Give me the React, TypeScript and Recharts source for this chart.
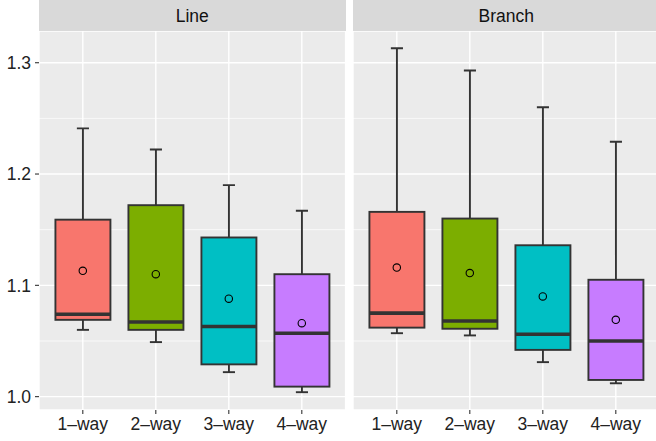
import React from 'react';
import { ComposedChart, Bar, Scatter, XAxis, YAxis, CartesianGrid } from 'recharts';

// categories shared by both panels
const categories = ['1–way', '2–way', '3–way', '4–way'];

// "Line" panel
const lineLo = [1.060, 1.049, 1.022, 1.004];
const lineQ1 = [1.069, 1.060, 1.029, 1.009];
const lineMed = [1.074, 1.067, 1.063, 1.057];
const lineQ3 = [1.159, 1.172, 1.143, 1.110];
const lineHi = [1.241, 1.222, 1.190, 1.167];
const lineMean = [1.113, 1.110, 1.088, 1.066];

// "Branch" panel
const branchLo = [1.057, 1.055, 1.031, 1.012];
const branchQ1 = [1.062, 1.061, 1.042, 1.015];
const branchMed = [1.075, 1.068, 1.056, 1.050];
const branchQ3 = [1.166, 1.160, 1.136, 1.105];
const branchHi = [1.313, 1.293, 1.260, 1.229];
const branchMean = [1.116, 1.111, 1.090, 1.069];

const yTicks = [1.0, 1.1, 1.2, 1.3];
const yMinor = [1.05, 1.15, 1.25];

const COLORS = ['#F8766D', '#7CAE00', '#00BFC4', '#C77CFF'];
const FONT = '"Liberation Sans", Arial, Helvetica, sans-serif';
const DOMAIN: [number, number] = [0.988, 1.3285];

const buildRows = (lo, q1, med, q3, hi, mean) =>
  categories.map((name, i) => ({
    name,
    lo: lo[i],
    q1: q1[i],
    med: med[i],
    q3: q3[i],
    hi: hi[i],
    mean: mean[i],
  }));

const lineData = buildRows(lineLo, lineQ1, lineMed, lineQ3, lineHi, lineMean);
const branchData = buildRows(branchLo, branchQ1, branchMed, branchQ3, branchHi, branchMean);

// draws a whole box + whiskers from the whisker-range bar
const BoxShape = (props: any) => {
  const { x, y, width, height, payload, index } = props;
  if (!payload || height == null) return null;
  const top = Math.min(y, y + height);
  const bot = Math.max(y, y + height);
  const span = payload.hi - payload.lo;
  const py = (v: number) => top + ((payload.hi - v) / span) * (bot - top);
  const cx = x + width / 2;
  const cap = width * 0.11;
  const stroke = '#333333';
  return (
    <g>
      <line x1={cx} x2={cx} y1={top} y2={bot} stroke={stroke} strokeWidth={1.9} />
      <line x1={cx - cap} x2={cx + cap} y1={top} y2={top} stroke={stroke} strokeWidth={1.9} />
      <line x1={cx - cap} x2={cx + cap} y1={bot} y2={bot} stroke={stroke} strokeWidth={1.9} />
      <rect
        x={x}
        y={py(payload.q3)}
        width={width}
        height={py(payload.q1) - py(payload.q3)}
        fill={COLORS[index % COLORS.length]}
        stroke={stroke}
        strokeWidth={1.9}
      />
      <line x1={x} x2={x + width} y1={py(payload.med)} y2={py(payload.med)} stroke={stroke} strokeWidth={3.6} />
    </g>
  );
};

const MeanDot = (props: any) => {
  const { cx, cy } = props;
  if (cx == null || cy == null) return null;
  return <circle cx={cx} cy={cy} r={3.7} fill="none" stroke="#000" strokeWidth={1.1} />;
};

const tickStyle = { fill: '#222222', fontSize: 17.5, fontFamily: FONT };

function Panel({ data, showY, width, right }: any) {
  const plotW = width - (showY ? 39 : 0) - right;
  const pad = (plotW / 4.2) * 0.1;
  return (
    <ComposedChart
      width={width}
      height={441}
      data={data}
      barCategoryGap="12.5%"
      margin={{ top: 31, right, bottom: 0, left: 0 }}
    >
      <CartesianGrid stroke="#FFFFFF" strokeWidth={1.4} fill="#EBEBEB" />
      <CartesianGrid stroke="#FFFFFF" strokeWidth={0.7} vertical={false} horizontalValues={yMinor} />
      <XAxis
        dataKey="name"
        height={31}
        padding={{ left: pad, right: pad }}
        axisLine={false}
        tickLine={{ stroke: '#333333', strokeWidth: 1.1 }}
        tickSize={4}
        tickMargin={4}
        tick={tickStyle}
        interval={0}
      />
      <YAxis
        hide={!showY}
        width={39}
        domain={DOMAIN}
        allowDataOverflow
        ticks={yTicks}
        tickFormatter={(v: number) => v.toFixed(1)}
        axisLine={false}
        tickLine={{ stroke: '#333333', strokeWidth: 1.1 }}
        tickSize={4}
        tickMargin={4}
        tick={tickStyle}
      />
      <Bar dataKey={(d: any) => [d.lo, d.hi]} shape={<BoxShape />} isAnimationActive={false} />
      <Scatter dataKey="mean" shape={<MeanDot />} isAnimationActive={false} />
    </ComposedChart>
  );
}

const stripStyle: React.CSSProperties = {
  position: 'absolute',
  top: 0,
  height: 31,
  background: '#D9D9D9',
  color: '#111111',
  fontFamily: FONT,
  fontSize: 17.5,
  lineHeight: '33px',
  textAlign: 'center',
};

export default function App() {
  return (
    <div
      style={{
        position: 'absolute',
        left: 0,
        top: 0,
        width: 656,
        height: 441,
        overflow: 'hidden',
        background: '#FFFFFF',
      }}
    >
      <div style={{ position: 'absolute', left: 0, top: 0 }}>
        <Panel data={lineData} showY width={350} right={4.4} />
      </div>
      <div style={{ position: 'absolute', left: 353, top: 0 }}>
        <Panel data={branchData} showY={false} width={310} right={3.4} />
      </div>
      <div style={{ ...stripStyle, left: 39, width: 306.6 }}>Line</div>
      <div style={{ ...stripStyle, left: 353, width: 306.6 }}>Branch</div>
    </div>
  );
}
